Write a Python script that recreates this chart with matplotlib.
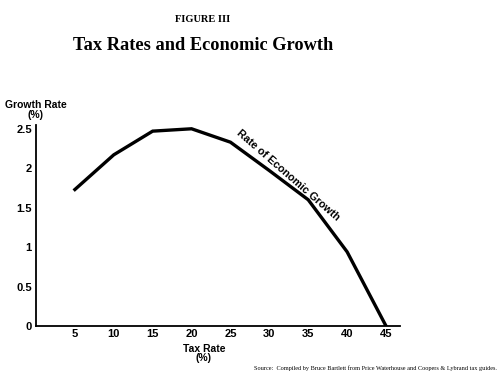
import matplotlib
matplotlib.use("Agg")
import matplotlib.pyplot as plt

tax_rate = [5, 10, 15, 20, 25, 30, 35, 40, 45]
growth = [1.73, 2.17, 2.47, 2.50, 2.33, 1.97, 1.60, 0.94, 0.0]
x_ticks = [5, 10, 15, 20, 25, 30, 35, 40, 45]
y_ticks = [0, 0.5, 1, 1.5, 2, 2.5]
y_tick_labels = ["0", "0.5", "1", "1.5", "2", "2.5"]

sans = "Liberation Sans"
serif = "Liberation Serif"

fig = plt.figure(figsize=(5, 3.76), dpi=100)
ax = fig.add_axes([0.072, 0.133, 0.728, 0.535])
ax.plot(tax_rate, growth, color="black", lw=2.4, solid_joinstyle="miter")
ax.set_xlim(0, 46.8)
ax.set_ylim(0, 2.55)
for s in ["top", "right"]:
    ax.spines[s].set_visible(False)
for s in ["left", "bottom"]:
    ax.spines[s].set_linewidth(1.3)
ax.set_xticks(x_ticks)
ax.set_xticklabels([str(t) for t in x_ticks], fontfamily=sans, fontweight="bold", fontsize=8)
ax.set_yticks(y_ticks)
ax.set_yticklabels(y_tick_labels, fontfamily=sans, fontweight="bold", fontsize=8)
ax.tick_params(axis="x", length=0, pad=2)
ax.tick_params(axis="y", length=0, pad=3)

ax.text(32.4, 1.91, "Rate of Economic Growth", rotation=-41, rotation_mode="anchor",
        ha="center", va="center", fontfamily=sans, fontweight="bold", fontsize=7.8)

fig.text(0.072, 0.708, "Growth Rate\n(%)", ha="center", va="center", fontfamily=sans,
         fontweight="bold", fontsize=7.5, linespacing=0.95)
fig.text(0.408, 0.06, "Tax Rate\n(%)", ha="center", va="center", fontfamily=sans,
         fontweight="bold", fontsize=7.5, linespacing=0.95)
fig.text(0.406, 0.948, "FIGURE III", ha="center", va="center", fontfamily=serif,
         fontweight="bold", fontsize=7.5)
fig.text(0.406, 0.878, "Tax Rates and Economic Growth", ha="center", va="center",
         fontfamily=serif, fontweight="bold", fontsize=13.2)
fig.text(0.994, 0.022, "Source:  Compiled by Bruce Bartlett from Price Waterhouse and Coopers & Lybrand tax guides.",
         ha="right", va="center", fontfamily=serif, fontsize=4.5)

fig.savefig("out.png", dpi=100)
